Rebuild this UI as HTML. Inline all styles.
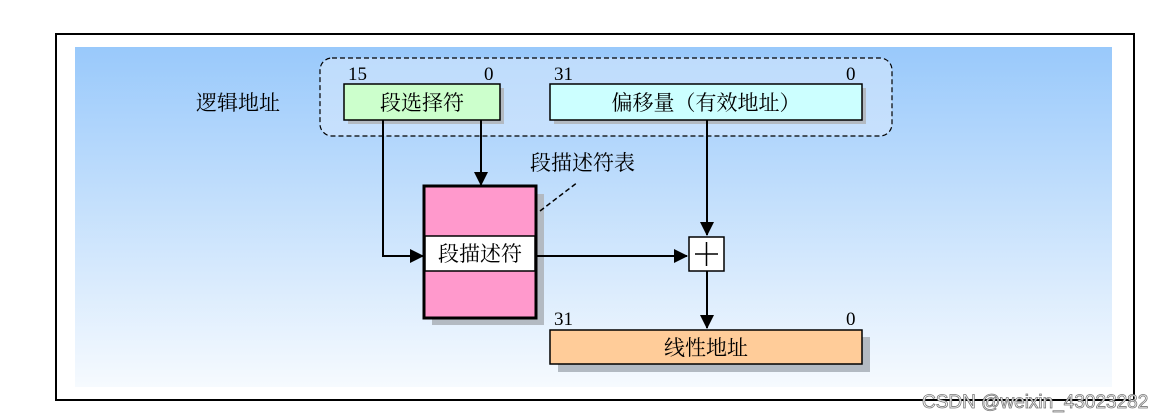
<!DOCTYPE html>
<html><head><meta charset="utf-8"><style>
html,body{margin:0;padding:0;background:#fff;width:1167px;height:420px;overflow:hidden}
text{font-family:"Liberation Serif","Noto Serif CJK SC",serif;}
</style></head><body>
<svg width="1167" height="420" viewBox="0 0 1167 420" xmlns="http://www.w3.org/2000/svg">
<defs>
<linearGradient id="g" x1="0" y1="0" x2="0" y2="1">
<stop offset="0" stop-color="#99c9fb"/><stop offset="1" stop-color="#f6fafe"/>
</linearGradient>
<marker id="b" markerWidth="14" markerHeight="14" refX="13" refY="7" orient="auto" markerUnits="userSpaceOnUse">
<path d="M0,0 L14,7 L0,14 z" fill="#000"/></marker>
</defs>
<rect x="56" y="34" width="1078" height="366" fill="#fff" stroke="#000" stroke-width="2"/>
<rect x="75" y="47" width="1037" height="340" fill="url(#g)"/>
<rect x="320" y="58" width="572" height="78" rx="12" fill="#d6e8fd" fill-opacity="0.6" stroke="#000" stroke-width="1.2" stroke-dasharray="5,3"/>
<text x="196" y="110" font-size="21">逻辑地址</text>
<!-- green -->
<rect x="348" y="88" width="156" height="36" fill="#b3bac2"/>
<rect x="344" y="84" width="156" height="36" fill="#ccffcc" stroke="#000" stroke-width="1.5"/>
<text x="422" y="110" font-size="21" text-anchor="middle">段选择符</text>
<text x="348" y="80" font-size="19">15</text>
<text x="484" y="80" font-size="19">0</text>
<!-- cyan -->
<rect x="554" y="88" width="312" height="36" fill="#b3bac2"/>
<rect x="550" y="84" width="312" height="36" fill="#ccffff" stroke="#000" stroke-width="1.5"/>
<text x="706" y="110" font-size="21" text-anchor="middle">偏移量（有效地址）</text>
<text x="554" y="80" font-size="19">31</text>
<text x="846" y="80" font-size="19">0</text>
<!-- table -->
<rect x="432" y="194" width="112" height="131" fill="#b3bac2"/>
<rect x="424" y="186" width="112" height="132" fill="#ff99cc" stroke="#000" stroke-width="3"/>
<rect x="425" y="236" width="110" height="35" fill="#fff" stroke="#000" stroke-width="1.5"/>
<text x="480" y="261" font-size="21" text-anchor="middle">段描述符</text>
<text x="530" y="170" font-size="21">段描述符表</text>
<line x1="540" y1="211" x2="578" y2="182" stroke="#000" stroke-width="1.5" stroke-dasharray="5,3"/>
<!-- connectors -->
<polyline points="383,120 383,256 423,256" fill="none" stroke="#000" stroke-width="2" marker-end="url(#b)"/>
<line x1="481" y1="120" x2="481" y2="185" stroke="#000" stroke-width="2" marker-end="url(#b)"/>
<line x1="707" y1="120" x2="707" y2="235" stroke="#000" stroke-width="2" marker-end="url(#b)"/>
<line x1="536" y1="256" x2="687" y2="256" stroke="#000" stroke-width="2" marker-end="url(#b)"/>
<line x1="707" y1="271" x2="707" y2="328" stroke="#000" stroke-width="2" marker-end="url(#b)"/>
<!-- plus -->
<rect x="689" y="237" width="35" height="34" fill="#fff" stroke="#000" stroke-width="1.5"/>
<line x1="695" y1="254" x2="718" y2="254" stroke="#000" stroke-width="1.5"/>
<line x1="706.5" y1="242" x2="706.5" y2="266" stroke="#000" stroke-width="1.5"/>
<!-- linear -->
<rect x="558" y="337" width="312" height="35" fill="#b3bac2"/>
<rect x="550" y="330" width="312" height="34" fill="#ffcc99" stroke="#000" stroke-width="1.5"/>
<text x="706" y="355" font-size="21" text-anchor="middle">线性地址</text>
<text x="554" y="325" font-size="19">31</text>
<text x="846" y="325" font-size="19">0</text>
<text x="922" y="408" font-size="19" fill="#fff" stroke="#777" stroke-width="0.8" style="font-family:'Liberation Sans',sans-serif">CSDN @weixin_43023282</text>
</svg>
</body></html>
